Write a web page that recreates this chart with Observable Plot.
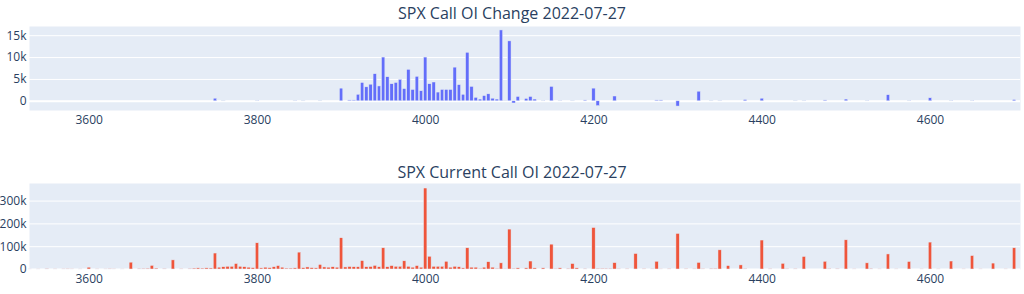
<!DOCTYPE html>
<html>
<head>
<meta charset="utf-8">
<script src="https://cdn.jsdelivr.net/npm/d3@7"></script>
<script src="https://cdn.jsdelivr.net/npm/@observablehq/plot@0.6"></script>
<style>
  html, body { margin: 0; padding: 0; background: #fff; }
  #wrap { position: relative; width: 1024px; height: 294px; overflow: hidden;
          font-family: "Open Sans", verdana, arial, sans-serif; }
  .title { position: absolute; left: 0; width: 1024px; text-align: center;
           font-size: 16px; line-height: 16px; color: #2a3f5f; white-space: nowrap; }
  .panel { position: absolute; left: 0; }
</style>
</head>
<body>
<div id="wrap">
  <div class="title" id="t1" style="top:5px"></div>
  <div class="panel" id="p1" style="top:0px"></div>
  <div class="title" id="t2" style="top:164px"></div>
  <div class="panel" id="p2" style="top:150px"></div>
</div>
<script>
const dateLabel = "2022-07-27";
const titleChange = "SPX Call OI Change " + dateLabel;
const titleCurrent = "SPX Current Call OI " + dateLabel;

const strikes = [
  3530,3540,3550,3560,3570,3575,3580,3590,3600,3610,3620,3625,3630,3640,3650,3660,3665,3670,3675,3680,3690,3700,3710,3720,3725,3730,3735,3740,3745,
  3750,3755,3760,3765,3770,3775,3780,3785,3790,3795,
  3800,3805,3810,3815,3820,3825,3830,3835,3840,3845,
  3850,3855,3860,3865,3870,3875,3880,3885,3890,3895,
  3900,3905,3910,3915,3920,3925,3930,3935,3940,3945,
  3950,3955,3960,3965,3970,3975,3980,3985,3990,3995,
  4000,4005,4010,4015,4020,4025,4030,4035,4040,4045,
  4050,4055,4060,4065,4070,4075,4080,4085,4090,4095,
  4100,4105,4110,4120,4125,4130,4140,4150,4155,4160,4170,4175,4180,4190,
  4200,4205,4210,4215,4220,4225,4230,4240,4250,4260,4270,4275,4280,4290,
  4300,4310,4320,4325,4330,4340,4345,4350,4360,4375,4380,
  4400,4410,4425,4430,4440,4450,4475,4480,4490,
  4500,4510,4525,4530,4540,4550,4560,4575,4590,
  4600,4610,4625,4640,4650,4660,4675,4690,4700
];

const oiChange = [
  0,0,0,0,0,0,0,0,0,0,0,0,0,0,0,0,0,0,0,0,0,0,0,0,0,0,0,0,0,
  600,0,100,0,0,0,0,0,0,0,
  100,0,0,0,0,0,0,0,0,100,
  0,100,0,0,0,100,0,0,0,0,
  2900,0,200,200,1500,4200,3200,3800,6200,3400,
  10000,5500,3900,4200,4900,2800,7200,2600,5600,2300,
  10000,3900,4300,2000,2600,2600,2600,7700,3700,1500,
  11100,3300,800,400,1200,1600,600,400,16200,100,
  13700,-500,1000,550,1000,400,100,3300,0,100,0,100,0,200,
  2900,-1100,0,0,0,1100,0,0,0,0,0,200,200,0,
  -1200,0,0,2200,0,100,0,100,0,0,300,
  600,0,0,0,100,100,200,0,0,
  400,0,100,0,0,1400,0,100,0,
  700,0,100,0,100,0,0,0,300
];

const currentOI = [
  200,300,2000,500,600,800,500,400,8000,500,400,900,500,300,30000,2500,3000,3500,16000,4000,2000,40000,800,2500,4000,5000,4000,5000,4500,
  70000,8000,10000,12000,12000,24000,12000,10000,8000,6000,
  115000,5000,8000,6000,10000,15000,8000,4000,4000,5000,
  74000,6000,9000,6000,5000,20000,9000,8000,10000,8000,
  137000,9000,11000,10000,10000,37000,10000,11000,16000,10000,
  93000,10000,15000,12000,12000,36000,12000,8000,15000,8000,
  355000,56000,12000,12000,12000,34000,8000,12000,10000,5000,
  93000,8000,8000,3000,8000,32000,8000,3000,27000,1500,
  175000,3000,5000,5000,35000,5000,5000,109000,2000,5000,3000,24000,5000,2000,
  182000,3000,3000,3000,3000,28000,1000,1000,68000,1000,1000,34000,500,1000,
  156000,1000,1000,29000,1000,3000,3000,84000,15000,18000,2000,
  127000,1000,25000,1000,1000,55000,34000,2000,2000,
  128000,500,27000,3000,500,66000,500,33000,500,
  118000,500,35000,500,59000,500,26000,500,93000
];

const xTicks = [3600, 3800, 4000, 4200, 4400, 4600];
const changeTicks = [0, 5000, 10000, 15000];
const oiTicks = [0, 100000, 200000, 300000];

const xDomain = [3529, 4707];
const changeDomain = [-2100, 17100];
const oiDomain = [0, 377000];

const blue = "#636EFA", red = "#EF553B", bg = "#E5ECF6", ink = "#2a3f5f";
const kfmt = d => d === 0 ? "0" : (d / 1000) + "k";
const xfmt = d => String(d);

const data = strikes.map((s, i) => ({strike: s, change: oiChange[i], oi: currentOI[i]}));

const style = {
  fontFamily: '"Open Sans", verdana, arial, sans-serif',
  fontSize: "12px", color: ink, background: "transparent", overflow: "visible"
};

function panel(valueKey, color, ticks, yDomain, height, mTop, mBottom) {
  return Plot.plot({
    width: 1024, height, marginTop: mTop, marginBottom: mBottom, marginLeft: 29, marginRight: 4,
    style,
    x: {domain: xDomain},
    y: {domain: yDomain},
    marks: [
      Plot.frame({fill: bg, stroke: "none"}),
      Plot.gridY(ticks, {stroke: "white", strokeOpacity: 1, strokeWidth: 1}),
      Plot.ruleY([0], {stroke: "white", strokeWidth: 2}),
      Plot.rect(data, {
        x1: d => d.strike - 2, x2: d => d.strike + 2,
        y1: d => 0, y2: d => d[valueKey],
        fill: color, stroke: bg, strokeWidth: 0.5
      }),
      Plot.axisX(xTicks, {tickSize: 0, tickPadding: 5, label: null, tickFormat: xfmt, fill: ink}),
      Plot.axisY(ticks, {tickSize: 0, tickPadding: 3, label: null, tickFormat: kfmt, fill: ink})
    ]
  });
}

document.getElementById("t1").textContent = titleChange;
document.getElementById("t2").textContent = titleCurrent;
document.getElementById("p1").appendChild(panel("change", blue, changeTicks, changeDomain, 130, 26, 20));
document.getElementById("p2").appendChild(panel("oi", red, oiTicks, oiDomain, 144, 33, 25));
</script>
</body>
</html>
